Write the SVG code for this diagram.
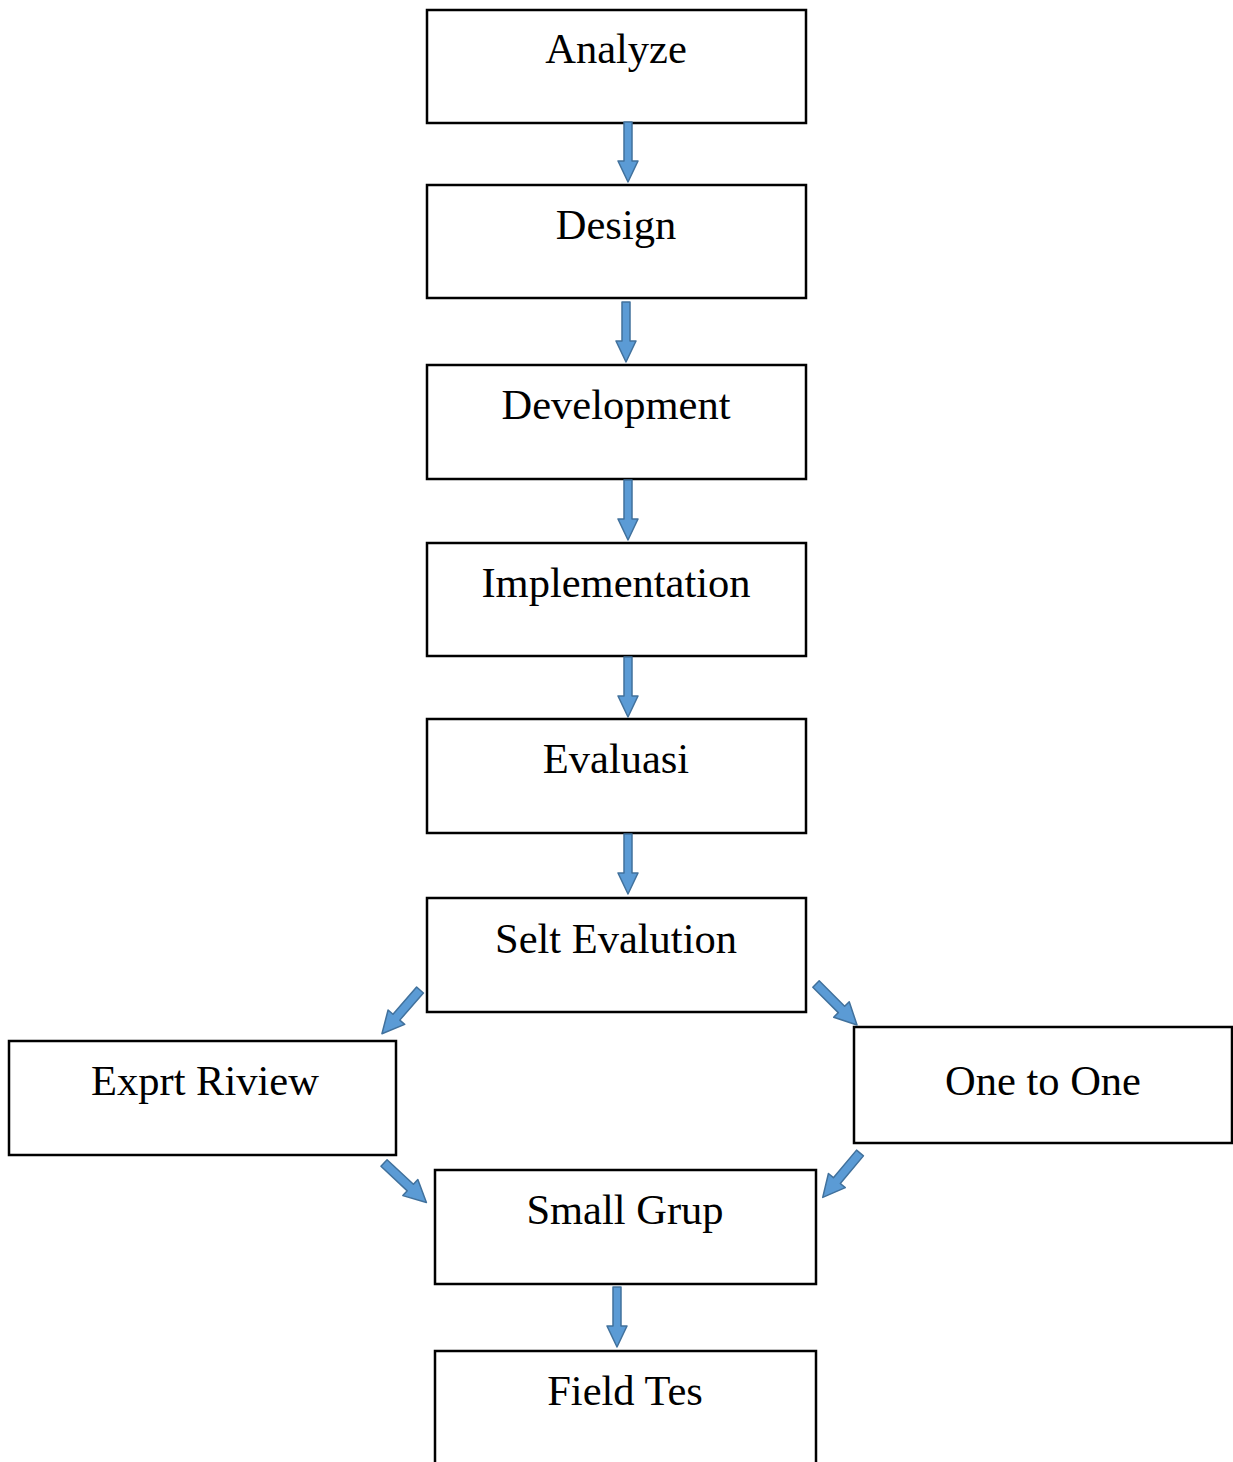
<svg xmlns="http://www.w3.org/2000/svg" width="1233" height="1462" viewBox="0 0 1233 1462">
  <style>
    .box { fill: #ffffff; stroke: #000000; stroke-width: 2.5; }
    .label { font-family: "Liberation Serif", "Times New Roman", serif; font-size: 42.5px; fill: #000000; text-anchor: middle; }
    .arrow { fill: #5b9bd5; stroke: #41719c; stroke-width: 1.5; stroke-linejoin: round; }
  </style>
  <defs>
    <!-- block arrow pointing down, tail centre at origin -->
    <path id="down60" d="M-4,0 L4,0 L4,39 L10,39 L0,60 L-10,39 L-4,39 Z"/>
    <path id="diag58" d="M-4.5,0 L4.5,0 L4.5,36 L11,36 L0,58 L-11,36 L-4.5,36 Z"/>
  </defs>
  <rect width="1233" height="1462" fill="#ffffff"/>

  <g id="analyze"><rect class="box" x="427" y="10" width="379" height="113"/><text class="label" x="616" y="63">Analyze</text></g>
  <g id="design"><rect class="box" x="427" y="185" width="379" height="113"/><text class="label" x="616" y="239">Design</text></g>
  <g id="development"><rect class="box" x="427" y="365" width="379" height="114"/><text class="label" x="616" y="419">Development</text></g>
  <g id="implementation"><rect class="box" x="427" y="543" width="379" height="113"/><text class="label" x="616" y="597">Implementation</text></g>
  <g id="evaluasi"><rect class="box" x="427" y="719" width="379" height="114"/><text class="label" x="616" y="773">Evaluasi</text></g>
  <g id="selt-evalution"><rect class="box" x="427" y="898" width="379" height="114"/><text class="label" x="616" y="953">Selt Evalution</text></g>
  <g id="exprt-riview"><rect class="box" x="9" y="1041" width="387" height="114"/><text class="label" x="205" y="1095">Exprt Riview</text></g>
  <g id="one-to-one"><rect class="box" x="854" y="1027" width="378" height="116"/><text class="label" x="1043" y="1095">One to One</text></g>
  <g id="small-grup"><rect class="box" x="435" y="1170" width="381" height="114"/><text class="label" x="625" y="1224">Small Grup</text></g>
  <g id="field-tes"><rect class="box" x="435" y="1351" width="381" height="140"/><text class="label" x="625" y="1405">Field Tes</text></g>

  <g id="connectors">
    <use href="#down60" class="arrow" transform="translate(628,122)"/>
    <use href="#down60" class="arrow" transform="translate(626,302)"/>
    <use href="#down60" class="arrow" transform="translate(628,480)"/>
    <use href="#down60" class="arrow" transform="translate(628,657)"/>
    <use href="#down60" class="arrow" transform="translate(628,834)"/>
    <use href="#down60" class="arrow" transform="translate(617,1287)"/>
    <use href="#diag58" class="arrow" transform="translate(420,990) rotate(41)"/>
    <use href="#diag58" class="arrow" transform="translate(816,984) rotate(-45)"/>
    <use href="#diag58" class="arrow" transform="translate(384,1163) rotate(-47)"/>
    <use href="#diag58" class="arrow" transform="translate(860,1153) rotate(40)"/>
  </g>
</svg>
